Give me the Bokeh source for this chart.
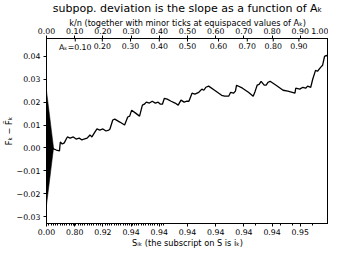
from math import pi
from bokeh.plotting import figure
from bokeh.models import LinearAxis, FixedTicker, Range1d
from bokeh.core.properties import value
from bokeh.embed import file_html
from bokeh.resources import INLINE

# cumulative differences, abscissa k/n
kn = [0.000, 0.011, 0.025, 0.035, 0.046, 0.049, 0.056, 0.063, 0.070, 0.074,
      0.084, 0.095, 0.105, 0.116, 0.126, 0.133, 0.144, 0.151, 0.154, 0.161,
      0.172, 0.179, 0.189, 0.200, 0.211, 0.221, 0.225, 0.235, 0.242, 0.260,
      0.277, 0.288, 0.295, 0.302, 0.316, 0.330, 0.340, 0.347, 0.354, 0.365,
      0.375, 0.386, 0.396, 0.404, 0.411, 0.418, 0.428, 0.442, 0.456, 0.467,
      0.477, 0.488, 0.498, 0.505, 0.516, 0.526, 0.540, 0.551, 0.558, 0.565,
      0.575, 0.596, 0.621, 0.632, 0.646, 0.653, 0.663, 0.670, 0.674, 0.695,
      0.716, 0.733, 0.740, 0.747, 0.754, 0.761, 0.772, 0.779, 0.786, 0.793,
      0.814, 0.839, 0.856, 0.881, 0.884, 0.898, 0.909, 0.919, 0.926, 0.937,
      0.944, 0.954, 0.961, 0.972, 0.979, 0.986, 0.993, 1.000]
deviation = [0.0000, 0.0009, -0.0004, -0.0009, -0.0013, 0.0026, 0.0017, 0.0022, 0.0039, 0.0048,
             0.0043, 0.0048, 0.0039, 0.0043, 0.0035, 0.0039, 0.0043, 0.0052, 0.0057, 0.0048,
             0.0070, 0.0083, 0.0078, 0.0083, 0.0074, 0.0078, 0.0083, 0.0122, 0.0126, 0.0113,
             0.0100, 0.0135, 0.0139, 0.0165, 0.0152, 0.0139, 0.0187, 0.0191, 0.0200, 0.0196,
             0.0204, 0.0196, 0.0200, 0.0191, 0.0191, 0.0217, 0.0213, 0.0204, 0.0196, 0.0187,
             0.0209, 0.0200, 0.0204, 0.0204, 0.0239, 0.0235, 0.0243, 0.0257, 0.0252, 0.0265,
             0.0270, 0.0252, 0.0230, 0.0226, 0.0226, 0.0243, 0.0239, 0.0248, 0.0274, 0.0261,
             0.0243, 0.0226, 0.0248, 0.0274, 0.0278, 0.0291, 0.0274, 0.0274, 0.0287, 0.0291,
             0.0274, 0.0252, 0.0248, 0.0239, 0.0261, 0.0257, 0.0265, 0.0261, 0.0270, 0.0265,
             0.0300, 0.0339, 0.0335, 0.0352, 0.0361, 0.0400, 0.0404, 0.0396]

# scale indicator triangle
tri_height = 0.025
tri_halfwidth = 0.025

# lower axis
bottom_ticks = [0.0, 0.1, 0.2, 0.3, 0.4, 0.5, 0.6, 0.7, 0.8, 0.9]
bottom_labels = ["0.00", "0.80", "0.92", "0.94", "0.94", "0.94", "0.94", "0.94", "0.94", "0.95"]
bottom_minor = [0.008, 0.016, 0.024, 0.032, 0.040, 0.048, 0.056, 0.064, 0.072, 0.080,
                0.088, 0.096, 0.104, 0.112, 0.120, 0.128, 0.136, 0.144, 0.152, 0.160,
                0.168, 0.176, 0.184, 0.192, 0.200, 0.208, 0.216, 0.224, 0.232, 0.240,
                0.248, 0.256, 0.264, 0.272, 0.280, 0.288, 0.296, 0.304, 0.312, 0.320,
                0.328, 0.336, 0.344, 0.352, 0.360, 0.368, 0.376, 0.384, 0.392, 0.400,
                0.408, 0.416, 0.740, 0.830, 0.874, 0.944]

# upper axis
top_ticks = [0.0, 0.1, 0.2, 0.3, 0.4, 0.5, 0.6, 0.7, 0.8, 0.9, 1.0]
top_labels = ["0.00", "0.10", "0.20", "0.30", "0.40", "0.50", "0.60", "0.70", "0.80", "0.90", "1.00"]
ak_pos = [0.102, 0.198, 0.298, 0.400, 0.500, 0.610, 0.712, 0.804, 0.895]
ak_labels = ["Aₖ=0.10", "0.20", "0.30", "0.40", "0.50", "0.60", "0.70", "0.80", "0.90"]

# vertical axis
y_ticks = [-0.03, -0.02, -0.01, 0.0, 0.01, 0.02, 0.03, 0.04]
y_labels = ["−0.03", "−0.02", "−0.01", "0.00", "0.01", "0.02", "0.03", "0.04"]
y_lo, y_hi = -0.033, 0.0478

FONT = "DejaVu Sans"
TICK = "7.8px"
LAB = "8.2px"

p = figure(frame_width=282, frame_height=185, output_backend="svg", toolbar_location=None,
           x_range=Range1d(0, 1), y_range=Range1d(y_lo, y_hi),
           x_axis_location=None, y_axis_location=None,
           min_border_left=0, min_border_right=0, min_border_top=0, min_border_bottom=0,
           title="subpop. deviation is the slope as a function of Aₖ")
p.grid.visible = False
p.outline_line_color = "black"
p.outline_line_width = 1
p.background_fill_color = "white"
p.border_fill_color = "white"
p.title.text_font = FONT
p.title.text_font_size = "11px"
p.title.text_font_style = "normal"
p.title.text_color = "black"
p.title.text_line_height = 1.0
p.title.align = "center"
p.title.standoff = -1
p.title.offset = 0


def style(ax):
    ax.major_label_text_font = FONT
    ax.major_label_text_font_size = TICK
    ax.major_label_text_color = "black"
    ax.major_label_text_line_height = 1.0
    ax.axis_label_text_font = FONT
    ax.axis_label_text_font_size = LAB
    ax.axis_label_text_font_style = "normal"
    ax.axis_label_text_color = "black"
    ax.axis_label_text_line_height = 1.0
    ax.axis_line_color = "black"
    ax.major_tick_line_color = "black"
    ax.minor_tick_line_color = "black"
    ax.major_tick_out = 3
    ax.major_tick_in = 0
    ax.minor_tick_out = 2
    ax.minor_tick_in = 0
    ax.major_label_standoff = 1
    ax.axis_label_standoff = 1


yax = LinearAxis(ticker=FixedTicker(ticks=y_ticks),
                 major_label_overrides=dict(zip(y_ticks, y_labels)),
                 axis_label="Fₖ − F̃ₖ")
style(yax)
yax.major_label_standoff = 3
yax.axis_label_standoff = 0
p.add_layout(yax, "left")

bax = LinearAxis(ticker=FixedTicker(ticks=bottom_ticks, minor_ticks=bottom_minor),
                 major_label_overrides=dict(zip(bottom_ticks, bottom_labels)),
                 axis_label="Sᵢₖ (the subscript on S is iₖ)")
style(bax)
bax.major_label_standoff = 2
bax.axis_label_standoff = 0
p.add_layout(bax, "below")

tax = LinearAxis(ticker=FixedTicker(ticks=top_ticks, minor_ticks=[]),
                 major_label_overrides=dict(zip(top_ticks, top_labels)),
                 axis_label="k/n (together with minor ticks at equispaced values of Aₖ)")
style(tax)
tax.major_label_standoff = 2
tax.axis_label_standoff = -3
p.add_layout(tax, "above")

# scale triangle
p.patch(x=[0, tri_halfwidth, 0], y=[tri_height, 0, -tri_height],
        fill_color="black", line_color="black", line_width=0.5)

# cumulative deviation
p.line(kn, deviation, line_color="black", line_width=1.3)

# inner minor ticks of the upper axis (values of A_k)
p.ray(x=ak_pos, y=[y_hi] * len(ak_pos), length=3, length_units="screen",
      angle=-pi / 2, line_color="black", line_width=1)
p.text(x=ak_pos, y=[y_hi] * len(ak_pos), text=ak_labels, y_offset=4,
       text_align="center", text_baseline="top",
       text_font=value(FONT), text_font_size=TICK, text_color="black")

open("out.html", "w").write(file_html(p, INLINE))
